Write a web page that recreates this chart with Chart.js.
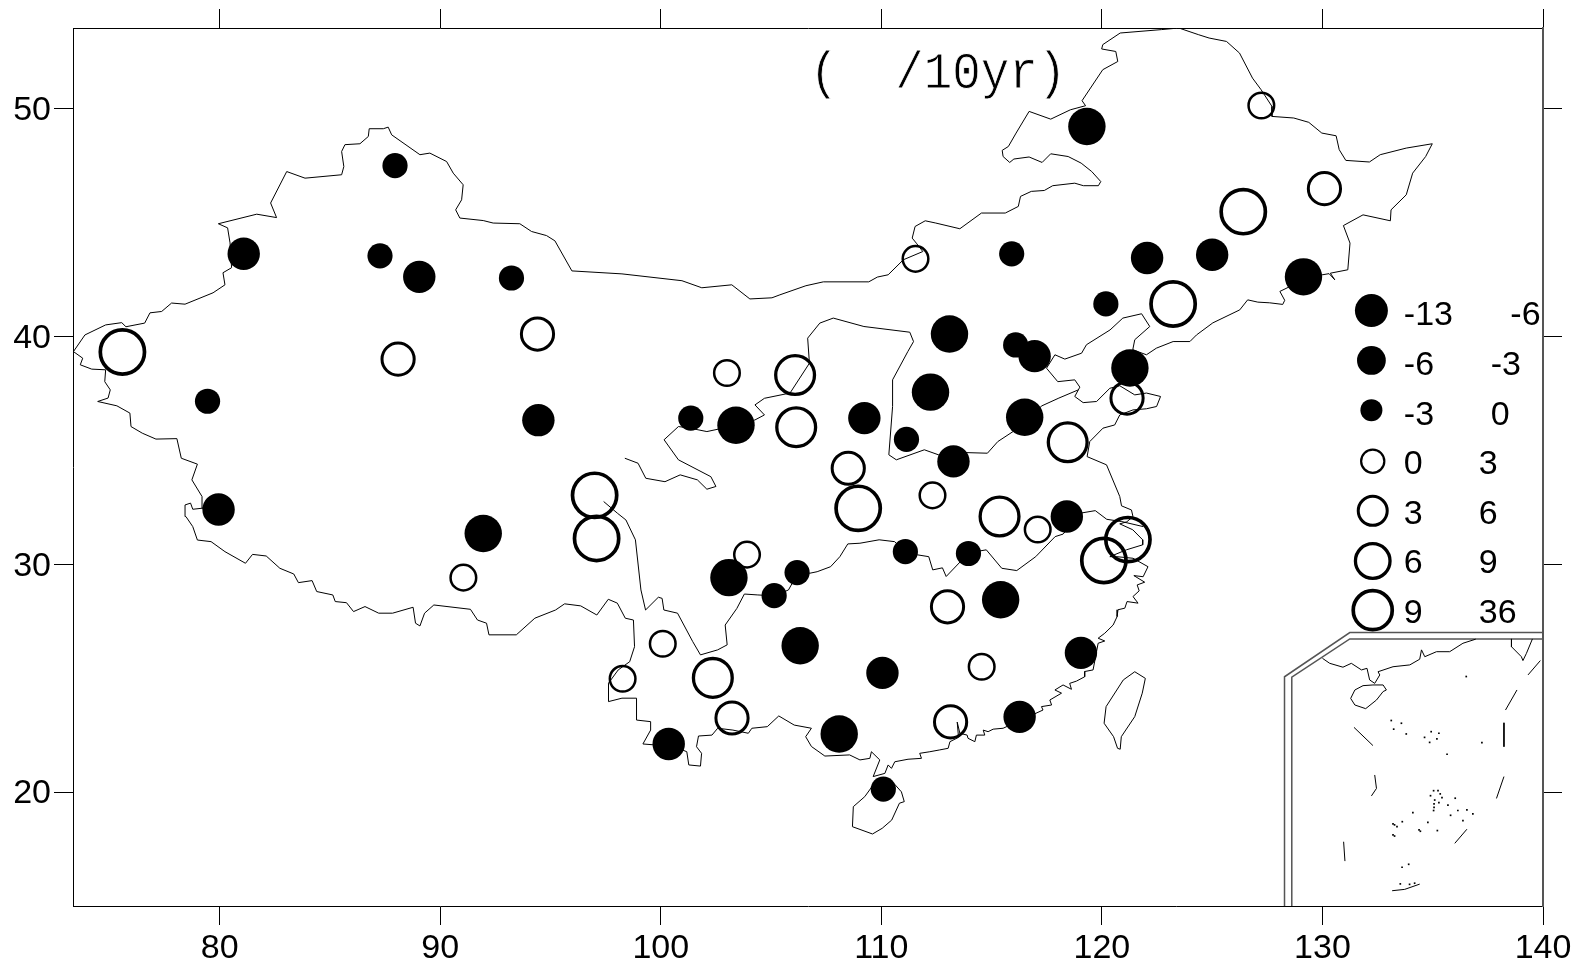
<!DOCTYPE html>
<html><head><meta charset="utf-8">
<style>html,body{margin:0;padding:0;background:#fff}canvas{display:block}</style>
<script src="https://cdn.jsdelivr.net/npm/chart.js@4/dist/chart.umd.min.js"></script>
</head><body><canvas id="c" width="1573" height="966"></canvas>
<script>
// ---- tick labels
const lonTicks=[80,90,100,110,120,130,140];
const latTicks=[20,30,40,50];
// ---- stations [lon,lat], one list per trend class
const fillSmall=[[87.95,47.49],[87.27,43.53],[93.23,42.56],[79.45,37.15],[115.91,43.62],[120.18,41.42],[116.09,39.62],[101.36,36.41],[111.14,35.48],[111.09,30.55],[113.95,30.47],[106.18,29.63],[105.14,28.62],[110.09,20.13]];
const fillMid=[[81.09,43.62],[89.05,42.61],[94.45,36.32],[79.95,32.40],[122.05,43.44],[125.0,43.58],[116.95,39.13],[109.23,36.41],[113.27,34.51],[118.41,32.09],[110.05,25.23],[119.05,26.11],[116.27,23.3],[100.36,22.11]];
const fillBig=[[119.32,49.21],[91.95,31.35],[129.14,42.61],[113.09,40.1],[121.27,38.61],[112.23,37.55],[116.5,36.45],[103.41,36.1],[103.09,29.41],[115.41,28.44],[106.32,26.42],[108.09,22.55]];
const openA=[[127.23,50.13],[111.55,43.4],[103.0,38.39],[112.32,33.02],[117.09,31.52],[103.91,30.42],[91.05,29.41],[100.09,26.51],[114.55,25.5],[98.27,24.97]];
const openB=[[130.09,46.48],[94.41,40.1],[88.09,39.0],[121.14,37.29],[108.5,34.21],[113.0,28.13],[103.23,23.25],[113.14,23.08]];
const openC=[[106.09,38.3],[106.14,36.01],[118.45,35.35],[115.36,32.09],[102.36,25.01]];
const openD=[[126.41,45.47],[123.23,41.42],[75.59,39.31],[97.0,33.02],[97.09,31.13],[108.95,32.45],[121.18,31.08],[120.09,30.16]];
// ---- legend
const legendFilled=[[132.22,41.13],[132.22,38.94],[132.22,36.76]];
const legendOpen=[[132.28,34.52],[132.28,32.34],[132.28,30.14],[132.28,27.98]];
const legendLow=["-13","-6","-3","0","3","6","9"];
const legendHigh=["-6","-3","0","3","6","9","36"];
const titleText="(  /10yr)";
// ---- map lines [lon,lat]
const border=[[73.37,39.33],[73.89,40.06],[74.83,40.50],[75.56,40.60],[75.75,40.42],[76.60,40.58],[76.84,41.03],[77.37,41.09],[77.82,41.46],[78.43,41.41],[79.70,41.91],[80.24,42.26],[80.15,42.79],[80.54,43.01],[80.47,44.10],[80.36,44.76],[79.94,44.94],[81.68,45.36],[82.58,45.21],[82.31,45.85],[83.04,47.23],[83.87,46.94],[85.53,47.09],[85.63,47.45],[85.53,48.11],[85.68,48.41],[86.36,48.45],[86.74,48.77],[86.78,49.11],[87.42,49.11],[87.64,49.18],[87.80,48.84],[89.08,47.97],[89.53,48.04],[90.29,47.67],[90.59,47.16],[91.04,46.65],[90.97,45.99],[90.70,45.55],[90.89,45.19],[91.95,45.08],[92.40,44.97],[93.61,44.94],[94.14,44.60],[94.82,44.42],[95.20,44.19],[95.97,42.87],[98.24,42.74],[100.96,42.44],[101.86,42.13],[103.22,42.26],[104.04,41.64],[105.04,41.69],[105.40,41.82],[106.58,42.22],[107.37,42.39],[109.43,42.39],[109.82,42.60],[110.31,42.70],[111.00,43.36],[111.88,43.72],[111.61,44.06],[111.40,44.31],[111.53,44.82],[111.99,45.07],[112.47,44.97],[113.56,44.72],[114.54,45.41],[115.62,45.41],[116.21,45.70],[116.31,46.14],[116.80,46.36],[117.39,46.40],[117.77,46.61],[118.77,46.72],[119.16,46.61],[119.84,46.61],[119.95,46.79],[119.54,47.23],[119.06,47.60],[118.47,47.89],[117.68,48.01],[117.29,47.63],[116.70,47.87],[116.01,47.78],[115.82,47.63],[115.52,47.89],[115.48,48.16],[115.76,48.33],[116.11,48.92],[116.70,49.87],[117.68,49.53],[118.57,49.94],[119.26,50.12],[119.10,50.34],[120.04,51.70],[120.72,52.06],[120.63,52.50],[119.99,52.61],[120.04,52.80],[120.83,53.31],[122.70,53.46],[123.49,53.53],[124.37,53.24],[124.86,53.09],[125.65,52.94],[126.24,52.43],[126.83,51.33],[127.22,50.82],[127.71,50.09],[127.71,49.65],[128.70,49.58],[129.38,49.39],[129.97,48.92],[130.62,48.80],[130.76,48.19],[131.06,47.72],[132.13,47.65],[132.62,47.97],[133.80,48.26],[134.98,48.45],[134.68,47.89],[134.09,47.16],[133.80,46.21],[133.11,45.55],[133.08,45.07],[131.84,45.33],[130.95,44.86],[131.25,44.09],[131.15,42.92],[130.36,42.77],[130.56,42.48],[130.30,42.75],[129.40,42.60],[128.07,41.97],[128.29,41.58],[128.20,41.40],[127.61,41.47],[127.07,41.50],[126.61,41.60],[126.25,41.16],[125.03,40.59],[124.29,40.06],[123.99,39.77],[123.23,39.77],[122.47,39.48],[122.02,39.19],[121.40,39.41],[121.49,39.85],[122.17,40.43],[121.80,40.99],[120.95,40.80],[120.37,40.28],[119.30,39.63],[119.08,39.26],[118.32,39.00],[117.87,39.19],[117.49,38.60],[118.00,38.01],[118.77,38.09],[119.00,37.77],[118.77,37.36],[119.15,37.09],[119.76,37.14],[120.36,37.72],[120.81,37.83],[121.49,37.43],[122.02,37.51],[122.66,37.36],[122.48,36.92],[122.02,36.82],[121.41,36.77],[120.81,36.55],[120.58,36.11],[120.05,35.97],[119.45,35.38],[119.33,34.72],[120.21,34.36],[120.81,32.97],[120.89,32.56],[121.34,32.38],[121.41,32.09],[121.13,31.86],[120.81,31.77],[121.40,31.51],[121.85,31.07],[121.85,30.85],[121.11,30.63],[120.36,30.33],[120.66,30.33],[121.41,30.26],[122.09,29.89],[121.87,29.45],[121.45,29.50],[121.94,29.21],[121.60,29.09],[121.69,28.83],[121.41,28.58],[121.64,28.29],[121.14,28.36],[121.04,28.07],[120.73,28.0],[120.69,27.70],[120.51,27.33],[120.13,26.97],[119.83,26.75],[120.13,26.63],[119.83,26.53],[119.60,25.36],[119.22,25.29],[119.22,25.06],[118.85,24.87],[118.54,24.77],[118.62,24.51],[118.24,24.70],[117.87,24.48],[118.17,24.34],[117.64,24.04],[117.72,23.82],[117.26,23.75],[117.33,23.60],[115.52,22.80],[115.07,22.76],[114.84,22.65],[114.62,22.72],[114.69,22.50],[114.31,22.50],[114.24,22.21],[113.93,22.36],[113.89,22.50],[113.56,22.58],[113.44,23.07],[113.50,22.40],[113.11,22.21],[113.03,21.92],[112.65,21.85],[112.20,21.77],[111.74,21.70],[111.82,21.48],[111.21,21.44],[110.61,21.33],[110.46,21.04],[110.31,21.19],[110.16,20.82],[109.63,20.68],[109.93,21.41],[109.55,21.77],[109.48,21.48],[109.03,21.41],[108.56,21.63],[107.44,21.58],[106.83,22.00],[106.57,22.43],[106.83,22.80],[106.05,22.94],[105.35,23.34],[104.83,22.87],[104.13,22.80],[103.97,22.58],[103.27,22.72],[102.58,22.80],[102.32,22.50],[101.71,22.46],[101.62,21.99],[101.85,21.70],[101.80,21.14],[101.27,21.19],[101.18,21.77],[100.41,22.07],[99.71,22.07],[99.19,22.11],[99.54,22.72],[99.54,23.09],[98.90,23.16],[98.90,24.12],[98.24,24.12],[97.63,23.97],[97.63,24.78],[98.07,25.36],[98.59,25.72],[98.81,26.38],[98.76,27.55],[98.39,27.63],[98.03,28.29],[97.62,28.46],[97.10,27.77],[96.37,28.17],[95.64,28.26],[95.23,27.99],[94.29,27.63],[93.45,26.90],[92.21,26.90],[92.10,27.41],[91.69,27.55],[91.37,28.02],[89.71,28.21],[89.29,27.85],[89.08,27.29],[88.88,27.41],[88.77,28.11],[87.84,27.85],[87.21,27.85],[86.59,28.14],[86.07,27.92],[85.75,28.31],[85.24,28.36],[85.13,28.65],[84.40,28.80],[84.19,29.28],[83.57,29.19],[83.36,29.57],[82.73,29.82],[82.11,30.36],[81.49,30.43],[81.17,30.04],[80.24,30.55],[79.61,30.99],[78.99,31.06],[78.78,31.65],[78.47,32.09],[78.43,32.60],[78.68,32.68],[78.78,32.41],[79.24,32.46],[79.20,32.97],[78.74,33.70],[78.99,34.39],[78.26,34.65],[78.06,35.51],[77.11,35.49],[76.49,35.75],[75.98,36.04],[75.93,36.63],[75.34,36.95],[74.47,37.14],[74.94,37.29],[75.04,37.65],[74.79,38.01],[74.83,38.53],[74.20,38.56],[73.68,38.75],[73.79,39.04],[73.37,39.33]];
const yellowRiver=[[118.93,37.65],[118.05,37.29],[117.28,36.95],[115.97,35.82],[115.28,35.38],[114.81,34.87],[113.72,34.90],[112.59,34.80],[111.95,35.02],[110.68,34.58],[110.34,34.80],[110.51,36.92],[110.51,38.09],[111.20,39.33],[111.46,39.77],[111.29,40.18],[109.21,40.43],[107.82,40.80],[107.21,40.58],[106.66,39.92],[106.74,38.82],[105.86,37.51],[104.70,37.28],[104.27,36.99],[104.70,36.55],[104.27,36.33],[103.49,36.11],[102.09,35.82],[101.32,35.97],[100.80,36.04],[100.15,35.46],[100.80,34.58],[102.27,33.84],[102.50,33.41],[102.09,33.29],[101.66,33.70],[100.88,33.92],[100.19,33.62],[99.32,33.77],[98.97,34.43],[98.37,34.65]];
const yangtze=[[121.87,31.65],[120.90,31.87],[120.22,31.97],[119.70,32.35],[119.09,32.25],[118.24,31.32],[117.88,31.21],[117.00,30.33],[116.14,29.72],[115.46,29.82],[114.76,30.63],[113.97,30.50],[112.94,29.46],[112.77,29.84],[112.33,29.75],[112.15,30.33],[111.64,30.41],[111.11,30.50],[110.60,30.99],[109.90,31.07],[109.03,30.92],[108.48,30.89],[108.12,30.33],[107.70,29.89],[107.09,29.67],[106.74,29.60],[106.17,29.53],[105.79,28.87],[105.17,28.61],[104.40,28.65],[103.79,28.69],[103.45,28.06],[102.92,27.33],[103.01,26.46],[102.58,26.24],[101.80,26.02],[101.45,26.60],[100.76,27.85],[100.14,27.99],[100.06,28.50],[99.89,28.55],[99.31,27.99],[99.10,28.87],[98.85,31.07],[98.42,31.94],[98.03,32.24],[97.41,32.75]];
const hainan=[[109.25,19.80],[108.73,19.36],[108.69,18.48],[109.60,18.16],[110.04,18.41],[110.47,18.77],[110.82,19.51],[111.04,19.58],[110.91,20.01],[110.56,20.39],[109.69,20.39],[109.25,19.80]];
const taiwan=[[121.49,25.28],[121.97,24.99],[121.83,24.34],[121.49,23.31],[120.88,22.43],[120.83,21.88],[120.71,21.92],[120.53,22.43],[120.10,23.02],[120.19,23.75],[120.97,24.92],[121.49,25.28]];
const insetFrameOuter=[[128.28,15],[128.28,25.06],[131.24,27.0],[140,27.0]];
const insetFrameInner=[[128.61,15],[128.61,25.04],[131.24,26.72],[140,26.72]];
const insetCoast=[[130.0,25.87],[130.33,25.65],[130.93,25.48],[131.31,25.65],[131.77,25.36],[132.02,25.43],[132.14,24.92],[132.37,24.77],[132.60,25.14],[132.52,25.28],[133.20,25.50],[133.96,25.58],[134.41,25.83],[134.49,26.24],[134.64,25.94],[135.17,26.16],[135.77,26.16],[136.37,26.53],[136.95,26.71]];
const insetHainan=[[131.84,24.67],[131.47,24.48],[131.28,24.11],[131.47,23.82],[131.96,23.66],[132.45,24.04],[132.75,24.41],[132.90,24.48],[132.75,24.70],[132.29,24.70],[131.84,24.67]];
const insetTaiwan=[[138.57,26.72],[138.57,26.38],[139.02,25.94],[139.09,25.77],[139.25,26.09],[139.52,26.72]];
const dash1=[[139.88,25.77],[139.32,25.14]];
const dash2=[[138.82,24.48],[138.30,23.60]];
const dash3=[[138.23,23.04],[138.23,21.99]];
const dash4=[[138.23,20.68],[137.89,19.72]];
const dash5=[[136.55,18.37],[136.0,17.75]];
const dash6=[[130.96,17.82],[131.02,16.97]];
const dash7=[[132.37,20.75],[132.45,20.16],[132.22,19.83]];
const dash8=[[131.43,22.84],[132.29,22.04]];
const shoalArc=[[133.16,15.67],[133.73,15.73],[134.41,15.96]];
const islands=[[136.52,25.07],[133.12,23.14],[133.58,23.02],[133.23,22.76],[133.80,22.55],[134.63,22.40],[134.93,22.65],[135.28,22.58],[135.19,22.33],[134.86,22.18],[137.23,22.17],[135.65,21.66],[135.04,20.06],[135.24,20.06],[134.90,19.84],[135.34,19.92],[135.09,19.65],[135.42,19.76],[135.06,19.48],[135.28,19.54],[135.69,19.43],[136.02,19.73],[135.04,19.19],[136.14,19.19],[136.55,19.22],[136.82,19.04],[135.81,18.98],[136.37,18.75],[134.10,19.10],[134.78,18.67],[133.27,18.56],[133.62,18.70],[134.38,18.34],[135.21,18.31],[133.27,18.07],[133.91,16.83],[133.61,16.70],[133.53,15.97],[133.95,15.95],[134.18,16.0],[133.20,18.60],[133.38,18.48],[133.20,18.12],[134.44,18.28],[135.06,19.33]];

const pts=a=>a.map(p=>({x:p[0],y:p[1]}));
const filled=(a,r)=>({type:'scatter',data:pts(a),pointRadius:r,pointBackgroundColor:'#000',pointBorderColor:'#000',pointBorderWidth:0,showLine:false});
const open=(a,r,w)=>({type:'scatter',data:pts(a),pointRadius:r,pointBackgroundColor:'rgba(0,0,0,0)',pointBorderColor:'#000',pointBorderWidth:w,showLine:false});
const line=(a,c,w)=>({type:'scatter',data:pts(a),showLine:true,tension:0,pointRadius:0,borderColor:c||'#000',borderWidth:w||1,fill:false});

const datasets=[
 filled(fillSmall,12.6),filled(fillMid,16.2),filled(fillBig,18.7),
 open(openA,12.8,2.5),open(openB,16.1,3),open(openC,19.4,3.3),open(openD,22.1,3.7),
 filled(legendFilled.slice(0,1),16.5),filled(legendFilled.slice(1,2),14.4),filled(legendFilled.slice(2,3),11),
 open(legendOpen.slice(0,1),11.6,2.2),open(legendOpen.slice(1,2),14.5,3),open(legendOpen.slice(2,3),17.3,3.3),open(legendOpen.slice(3,4),19.5,3.7),
 {type:'scatter',data:pts(islands),pointRadius:1.2,pointStyle:'rect',pointBackgroundColor:'#000',pointBorderWidth:0,showLine:false},
 line(border),line(yellowRiver),line(yangtze),line(hainan),line(taiwan),
 line(insetCoast),line(insetHainan),line(insetTaiwan),
 line(dash1),line(dash2),line(dash3),line(dash4),line(dash5),line(dash6),line(dash7),line(dash8),line(shoalArc),
 line(insetFrameOuter,'#555',1.5),line(insetFrameInner,'#555',1.5)
];

const textPlugin={id:'texts',afterDraw(chart){
  const {ctx,scales:{x,y}}=chart;
  ctx.save();ctx.fillStyle='#000';ctx.textBaseline='alphabetic';ctx.textAlign='left';
  ctx.font='34px "Liberation Sans"';
  const rowLat=[40.50,38.31,36.11,33.96,31.77,29.62,27.42];
  const highLon=[138.52,137.63,137.63,137.09,137.09,137.09,137.09];
  legendLow.forEach((t,i)=>{
    ctx.fillText(t,x.getPixelForValue(133.69),y.getPixelForValue(rowLat[i]));
    ctx.fillText(legendHigh[i],x.getPixelForValue(highLon[i]),y.getPixelForValue(rowLat[i]));
  });
  const tx=x.getPixelForValue(106.75),ty=y.getPixelForValue(50.91);
  ctx.translate(tx,ty);ctx.scale(1,1.1);
  ctx.font='47.5px "Liberation Mono"';
  ctx.fillText(titleText,0,0);
  ctx.strokeStyle='#fff';ctx.lineWidth=0.7;
  ctx.strokeText(titleText,0,0);
  ctx.restore();
}};

const gridOpt={drawOnChartArea:false,drawTicks:true,tickLength:19,color:'#000',lineWidth:1};
const labelFont={family:'"Liberation Sans"',size:34};
const noPad=s=>{s.paddingLeft=0;s.paddingRight=0;s.paddingTop=0;s.paddingBottom=0;};
new Chart(document.getElementById('c'),{
 type:'scatter',
 data:{datasets},
 plugins:[textPlugin],
 options:{
  responsive:false,animation:false,
  layout:{padding:0},
  plugins:{legend:{display:false},tooltip:{enabled:false},title:{display:false}},
  scales:{
   x:{type:'linear',position:'bottom',min:73.35,max:140,grid:gridOpt,border:{display:true,color:'#000',width:1},
      afterBuildTicks:s=>{s.ticks=lonTicks.map(v=>({value:v}))},
      ticks:{color:'#000',font:labelFont,padding:3,maxRotation:0,autoSkip:false,callback:v=>String(v)},
      afterFit:s=>{s.height=60;noPad(s)}},
   y:{type:'linear',position:'left',min:15,max:53.53,grid:gridOpt,border:{display:true,color:'#000',width:1},
      afterBuildTicks:s=>{s.ticks=latTicks.map(v=>({value:v}))},
      ticks:{color:'#000',font:labelFont,padding:3,labelOffset:2,autoSkip:false,callback:v=>String(v)},
      afterFit:s=>{s.width=73;noPad(s)}},
   x2:{type:'linear',position:'top',min:73.35,max:140,grid:gridOpt,border:{display:true,color:'#000',width:1},
      afterBuildTicks:s=>{s.ticks=lonTicks.map(v=>({value:v}))},
      ticks:{display:false},afterFit:s=>{s.height=28;noPad(s)}},
   y2:{type:'linear',position:'right',min:15,max:53.53,grid:gridOpt,border:{display:true,color:'#555',width:2},
      afterBuildTicks:s=>{s.ticks=latTicks.map(v=>({value:v}))},
      ticks:{display:false},afterFit:s=>{s.width=30;noPad(s)}}
  }
 }
});
</script></body></html>
